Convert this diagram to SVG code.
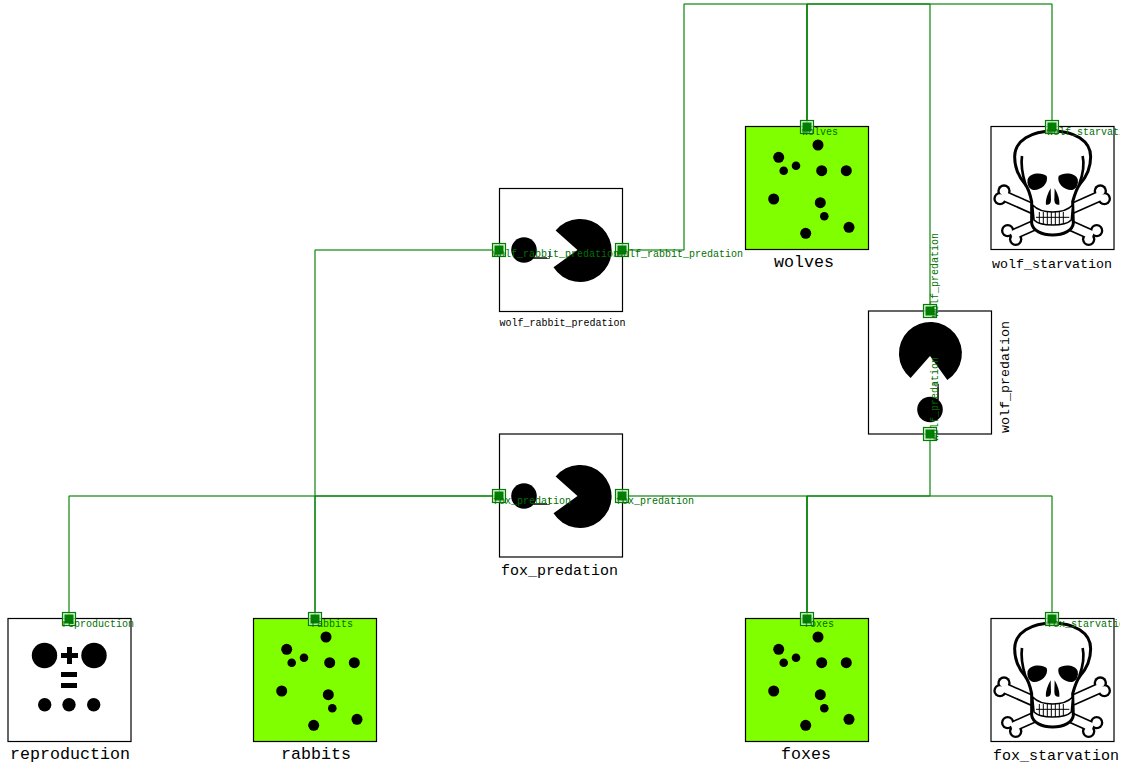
<svg xmlns="http://www.w3.org/2000/svg" xmlns:xlink="http://www.w3.org/1999/xlink" width="1133" height="773" viewBox="0 0 1133 773">
<style>
text{font-family:"Liberation Mono","DejaVu Sans Mono",monospace}
.box{fill:#fff;stroke:#000;stroke-width:1.2}
.stock{fill:#7fff00;stroke:#000;stroke-width:1.2}
.lbl{fill:#000}
.pl{fill:#007000;font-size:10px}
.edge{fill:none;stroke:#008000;stroke-width:1}
.edge2{fill:none;stroke:#008000;stroke-width:2;stroke-opacity:.15}
.po{fill:#d5ecd5;stroke:#008000;stroke-width:1.2;fill-opacity:.8}
.pi{fill:#008000}
</style>
<defs>
<clipPath id="page"><rect x="0" y="0" width="1120" height="773"/></clipPath>
<g id="port"><rect class="po" x="-6.500" y="-6.500" width="13" height="13"/><rect class="pi" x="-4.500" y="-4.500" width="9" height="9"/></g>
<g id="dots">
<circle cx="326" cy="637" r="5.5"/><circle cx="286.7" cy="649.3" r="5.5"/><circle cx="291.7" cy="662.7" r="4.3"/><circle cx="304" cy="657.7" r="4.3"/><circle cx="329.7" cy="662.7" r="5.5"/><circle cx="354.3" cy="662.7" r="5.5"/><circle cx="281.7" cy="691" r="5.5"/><circle cx="328.3" cy="694.7" r="5.5"/><circle cx="332.3" cy="708.3" r="4.3"/><circle cx="357" cy="719.3" r="5.5"/><circle cx="313.7" cy="725.3" r="5.5"/>
</g>
<g id="pac">
<path d="M577.5 250L555.6 230.6A31.5 31.5 0 1 1 553.5 267.3Z" fill="#000"/>
<circle cx="524" cy="250" r="12.8" fill="#000"/>
<path d="M533 258.5H549.5V252" fill="none" stroke="#555" stroke-width="1"/>
<path d="M533 257.8H547" fill="none" stroke="#000" stroke-width="1"/>
</g>
<g id="bone">
<g fill="#000"><path d="M66 255L338 376" stroke="#000" stroke-width="34"/><circle cx="72" cy="243" r="20"/><circle cx="60" cy="266" r="20"/><circle cx="350" cy="362" r="20"/><circle cx="326" cy="388" r="20"/></g>
<g fill="#fff"><path d="M66 255L338 376" stroke="#fff" stroke-width="24"/><circle cx="72" cy="243" r="13"/><circle cx="60" cy="266" r="13"/><circle cx="350" cy="362" r="13"/><circle cx="326" cy="388" r="13"/></g>
</g>
<g id="skull" transform="translate(980 110) scale(.3333)">
<use xlink:href="#bone"/>
<use xlink:href="#bone" transform="matrix(-1 0 0 1 433 0)"/>
<path d="M135 222C112 195 104 165 104 140C104 92 155 63 218 63C282 63 332 92 332 140C332 165 324 195 300 222C290 235 285 250 278 275L280 340C278 362 250 375 218 375C186 375 158 362 155 340L155 275C150 250 145 235 135 222Z" fill="#fff" stroke="#000" stroke-width="9"/>
<path d="M126 138C122 165 128 195 136 222M308 138C314 165 308 195 298 222" fill="none" stroke="#000" stroke-width="8"/>
<path d="M143 208C148 188 186 186 200 198C207 220 182 242 160 240C146 238 140 222 143 208Z" fill="#000"/>
<path d="M293 208C288 188 250 186 236 198C229 220 254 242 276 240C290 238 296 222 293 208Z" fill="#000"/>
<path d="M212 235C203 250 196 270 198 284C205 286 213 282 213 270ZM224 235C233 250 240 270 238 284C231 286 223 282 223 270Z" fill="#000"/>
<path d="M158 285C172 300 190 306 218 306C246 306 264 300 278 285L274 330C262 342 240 345 218 345C196 345 174 342 162 330Z" fill="#fff" stroke="#000" stroke-width="5"/>
<path d="M178 306V342M190 306V344M202 306V345M214 306V345M226 306V345M238 306V344M250 306V342M168 322H268" fill="none" stroke="#000" stroke-width="3"/>
</g>
</defs>

<g id="connectors">
<path class="edge2" d="M622 250H684V4H807V127M930 311V4H684M807 4H1052V127M315 619V250H499M69 619V496H499M622 496H930V434M807 619V496H1052V619"/>
<path class="edge" d="M622 250H684V4H807V127"/>
<path class="edge" d="M930 311V4H807V127"/>
<path class="edge" d="M1052 127V4H807V127"/>
<path class="edge" d="M315 619V250H499"/>
<path class="edge" d="M315 619V496H499"/>
<path class="edge" d="M69 619V496H499"/>
<path class="edge" d="M622 496H807V619"/>
<path class="edge" d="M930 434V496H807V619"/>
<path class="edge" d="M1052 619V496H807V619"/>
</g>

<g id="wolves">
<rect class="stock" x="745.5" y="126.5" width="123" height="123"/>
<use xlink:href="#dots" transform="translate(492 -492)"/>
<use xlink:href="#port" x="807" y="127"/>
<text class="pl" x="802" y="135">wolves</text>
<text class="lbl" x="774" y="267" font-size="16.67">wolves</text>
</g>
<g id="wolf_starvation" clip-path="url(#page)">
<rect class="box" x="991" y="126.5" width="123" height="123"/>
<use xlink:href="#skull"/>
<use xlink:href="#port" x="1052" y="127"/>
<text class="pl" x="1047" y="135">wolf_starvation</text>
<text class="lbl" x="992" y="268" font-size="13.33">wolf_starvation</text>
</g>
<g id="wolf_rabbit_predation">
<rect class="box" x="499.5" y="188.5" width="123" height="123"/>
<use xlink:href="#pac"/>
<use xlink:href="#port" x="499" y="250"/>
<use xlink:href="#port" x="622" y="250"/>
<text class="pl" x="493" y="257">wolf_rabbit_predation</text>
<text class="pl" x="617" y="257">wolf_rabbit_predation</text>
<text class="lbl" x="499.500" y="326" font-size="10">wolf_rabbit_predation</text>
</g>
<g id="wolf_predation">
<rect class="box" x="868.500" y="311" width="123" height="123"/>
<use xlink:href="#pac" transform="rotate(-90 930 372.500) translate(369 122.500)"/>
<use xlink:href="#port" x="930" y="311"/>
<use xlink:href="#port" x="930" y="434"/>
<text class="pl" transform="translate(938 317) rotate(-90)">wolf_predation</text>
<text class="pl" transform="translate(938 441) rotate(-90)">wolf_predation</text>
<text class="lbl" font-size="13.33" transform="translate(1009 433) rotate(-90)">wolf_predation</text>
</g>
<g id="fox_predation">
<rect class="box" x="499.5" y="434" width="123" height="123"/>
<use xlink:href="#pac" transform="translate(0 246)"/>
<use xlink:href="#port" x="499" y="496"/>
<use xlink:href="#port" x="622" y="496"/>
<text class="pl" x="493" y="504">fox_predation</text>
<text class="pl" x="616" y="504">fox_predation</text>
<text class="lbl" x="501" y="575" font-size="15">fox_predation</text>
</g>
<g id="reproduction">
<rect class="box" x="8" y="618.5" width="123" height="123"/>
<circle cx="44.500" cy="655.500" r="12.700"/><circle cx="94" cy="655.500" r="12.700"/>
<path d="M61 653H67V647H72V653H78V658H72V664H67V658H61Z"/>
<path d="M61 672H77V677H61ZM61 683H77V688H61Z"/>
<circle cx="44.700" cy="704.700" r="6.700"/><circle cx="69" cy="704.700" r="6.700"/><circle cx="93.700" cy="704.700" r="6.700"/>
<use xlink:href="#port" x="69" y="619"/>
<text class="pl" x="62" y="627">reproduction</text>
<text class="lbl" x="10" y="759" font-size="16.67">reproduction</text>
</g>
<g id="rabbits">
<rect class="stock" x="253.5" y="618.5" width="123" height="123"/>
<use xlink:href="#dots"/>
<use xlink:href="#port" x="315" y="619"/>
<text class="pl" x="311" y="627">rabbits</text>
<text class="lbl" x="281" y="759" font-size="16.67">rabbits</text>
</g>
<g id="foxes">
<rect class="stock" x="745.5" y="618.5" width="123" height="123"/>
<use xlink:href="#dots" transform="translate(492 0)"/>
<use xlink:href="#port" x="807" y="619"/>
<text class="pl" x="804" y="627">foxes</text>
<text class="lbl" x="781" y="759" font-size="16.67">foxes</text>
</g>
<g id="fox_starvation" clip-path="url(#page)">
<rect class="box" x="991" y="618.5" width="123" height="123"/>
<use xlink:href="#skull" transform="translate(0 492)"/>
<use xlink:href="#port" x="1052" y="619"/>
<text class="pl" x="1047" y="627">fox_starvation</text>
<text class="lbl" x="993" y="760" font-size="15">fox_starvation</text>
</g>
</svg>
